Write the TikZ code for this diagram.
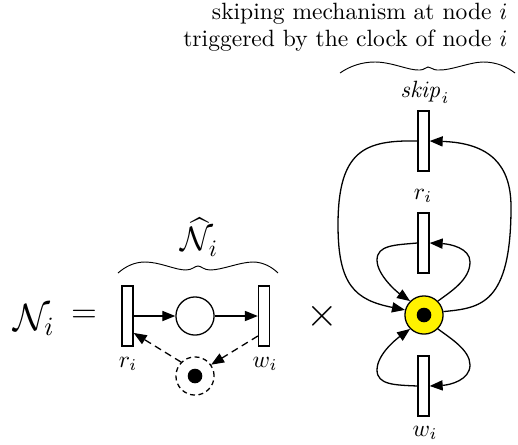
\documentclass[tikz,border=0pt]{standalone}
\usepackage{amsmath}
\usetikzlibrary{arrows.meta}
\tikzset{
  x=0.4246pt,y=-0.4246pt,
  trans/.style={draw,line width=0.55pt,fill=white,rectangle,minimum width=4.7pt,minimum height=25.5pt,inner sep=0pt},
  place/.style={draw,line width=0.55pt,circle,minimum size=16.2pt,inner sep=0pt},
  dplace/.style={place,dash pattern=on 2.1pt off 1.5pt},
  yplace/.style={place,fill=yellow},
  token/.style={circle,fill=black,minimum size=6.2pt,inner sep=0pt},
  arc/.style={line width=0.55pt,-{Triangle[length=5.5pt,width=4.3pt]}},
  darc/.style={arc,dash pattern=on 3pt off 2pt},
  bracecurve/.style={line width=0.4pt},
  lab/.style={inner sep=0pt}
}
\begin{document}
\begin{tikzpicture}
\useasboundingbox (0,0) rectangle (518,444);
% top text
\node[lab,anchor=east,align=right] (cap1) at (508,14) {skiping mechanism at node $i$};
\node[lab,anchor=east,align=right] (cap2) at (508,41) {triggered by the clock of node $i$};
% braces
\draw[bracecurve] (340,73) .. controls (350,66) and (362,62) .. (375,62) .. controls (392,62) and (410,71) .. (420,70) .. controls (424,70) and (426,67) .. (428,67) .. controls (431,67) and (433,70) .. (437,70) .. controls (450,71) and (470,62) .. (483,62) .. controls (497,62) and (507,67) .. (515,73);
\draw[bracecurve] (118,273) .. controls (126,266) and (135,262) .. (145,262) .. controls (160,262) and (175,270) .. (186,270) .. controls (192,270) and (195,266) .. (198,266) .. controls (201,266) and (204,270) .. (210,270) .. controls (222,270) and (240,262) .. (253,262) .. controls (263,262) and (272,267) .. (278,273);
% left formula
\node[lab,scale=1.12] (lhs) at (34,320) {\Large $\mathcal{N}_i$};
\node[lab] (eq) at (84,316) {\Large $=$};
\node[lab] (hat) at (199.5,237) {\Large $\widehat{\mathcal{N}}_i$};
\node[lab,scale=1.2] (times) at (322,316) {\Large $\times$};
% left net
\node[trans] (r1) at (127.5,316) {};
\node[trans] (w1) at (264,316) {};
\node[place] (p1) at (195,316) {};
\node[dplace] (p2) at (195,376) {};
\node[token] (tk2) at (195,376) {};
\node[lab] (rl1) at (128,364) {$r_i$};
\node[lab] (wl1) at (265,364) {$w_i$};
\draw[arc] (r1.east) -- (p1);
\draw[arc] (p1) -- (w1.west);
\draw[darc] (p2.135) -- ([yshift=-7.2pt]r1.east);
\draw[darc] ([yshift=-8.5pt]w1.west) -- (p2.35);
% right net
\node[trans] (ts) at (423.5,141) {};
\node[trans] (tr) at (423.5,243) {};
\node[trans] (tw) at (423.5,386) {};
\node[yplace] (pc) at (424,315) {};
\node[token] (tkc) at (424,315) {};
\node[lab] (sl) at (425,92) {$\mathit{skip}_i$};
\node[lab] (rl) at (423,196) {$r_i$};
\node[lab] (wl) at (425,433) {$w_i$};
\draw[arc] (ts.west) .. controls (365,140) and (338,150) .. (338,225) .. controls (338,285) and (355,300) .. (pc.165);
\draw[arc] (pc.10) .. controls (480,308) and (511,305) .. (511,207) .. controls (511,165) and (490,143) .. (ts.east);
\draw[arc] (tr.west) .. controls (395,245) and (377,245) .. (377,260) .. controls (377,275) and (397,292) .. (pc.135);
\draw[arc] (pc.45) .. controls (450,292) and (470,280) .. (470,262) .. controls (470,248) and (450,244) .. (tr.east);
\draw[arc] (tw.west) .. controls (395,385) and (377,385) .. (377,370) .. controls (377,355) and (395,340) .. (pc.225);
\draw[arc] (pc.-45) .. controls (450,338) and (470,350) .. (470,365) .. controls (470,380) and (450,385) .. (tw.east);
\end{tikzpicture}
\end{document}
